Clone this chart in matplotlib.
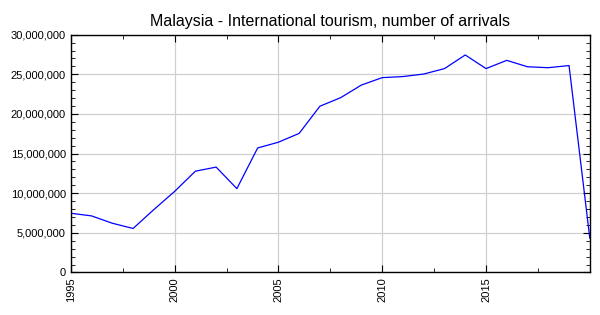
import matplotlib
matplotlib.use("Agg")
import matplotlib.pyplot as plt
from matplotlib.ticker import FuncFormatter, MultipleLocator

plt.rcParams['font.family'] = ['Liberation Sans', 'DejaVu Sans']

years = list(range(1995, 2021))
arrivals = [7469000, 7138000, 6211000, 5551000, 7931000, 10222000, 12775000,
            13292000, 10577000, 15703000, 16431000, 17547000, 20973000,
            22052000, 23646000, 24577000, 24714000, 25033000, 25716000,
            27437000, 25721000, 26757000, 25948000, 25832000, 26101000,
            4333000]
xticks = [1995, 2000, 2005, 2010, 2015]

fig = plt.figure(figsize=(6, 3.15), dpi=100)
ax = fig.add_axes([0.118, 0.135, 0.865, 0.755])

ax.plot(years, arrivals, color="#0000ff", linewidth=0.9)
ax.set_xlim(1995, 2020)
ax.set_ylim(0, 30000000)
ax.set_xticks(xticks)
ax.xaxis.set_minor_locator(MultipleLocator(2.5))
ax.yaxis.set_major_locator(MultipleLocator(5000000))
ax.yaxis.set_minor_locator(MultipleLocator(1000000))
ax.yaxis.set_major_formatter(FuncFormatter(lambda v, p: f"{int(v):,}"))
for lab in ax.get_xticklabels():
    lab.set_rotation(90)

ax.tick_params(which="both", direction="in", top=True, right=True,
               labelsize=8, colors="black")
ax.tick_params(which="major", length=5)
ax.tick_params(which="minor", length=3)
ax.grid(True, which="major", color="#d0d0d0", linewidth=0.9)
ax.set_axisbelow(True)
for s in ax.spines.values():
    s.set_linewidth(1.0)

ax.set_title("Malaysia - International tourism, number of arrivals",
             fontsize=11.5, pad=6)

fig.savefig("out.png", dpi=100)
